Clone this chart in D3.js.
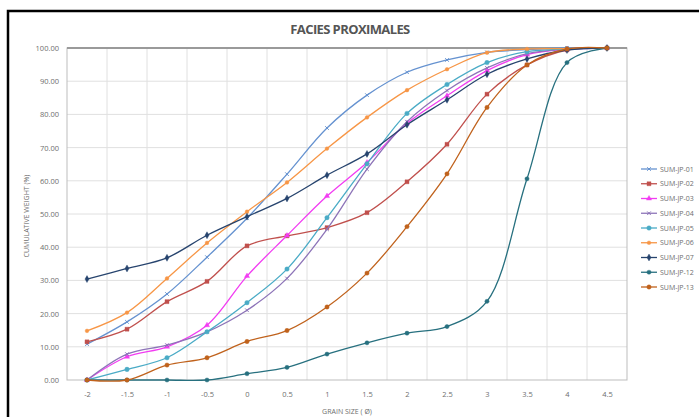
<!DOCTYPE html>
<html>
<head>
<meta charset="utf-8">
<script src="https://cdn.jsdelivr.net/npm/d3@7"></script>
<style>
  body { margin: 0; background: #fff; }
  text { font-family: "Open Sans", "DejaVu Sans", sans-serif; }
</style>
</head>
<body>
<script>
//Variables
    const width = 699;
    const height = 417;

//Data
    const grainSize = ["-2", "-1.5", "-1", "-0.5", "0", "0.5", "1", "1.5", "2", "2.5", "3", "3.5", "4", "4.5"];
    const jp01 = [10.8, 17.5, 25.9, 37.0, 48.7, 62.0, 75.9, 85.8, 92.7, 96.4, 98.7, 99.5, 100, 100];
    const jp02 = [11.5, 15.3, 23.6, 29.7, 40.4, 43.4, 45.9, 50.4, 59.7, 71.0, 86.1, 94.9, 99.4, 100];
    const jp03 = [0, 7.0, 10.0, 16.5, 31.3, 43.5, 55.4, 65.5, 77.3, 85.6, 93.2, 98.0, 99.6, 100];
    const jp04 = [0, 7.8, 10.5, 14.5, 21.0, 30.6, 45.4, 63.5, 77.8, 87.2, 94.0, 98.3, 99.7, 100];
    const jp05 = [0, 3.2, 6.7, 14.5, 23.3, 33.4, 48.9, 65.1, 80.3, 89.0, 95.6, 98.9, 99.7, 100];
    const jp06 = [14.8, 20.3, 30.6, 41.3, 50.7, 59.5, 69.7, 79.1, 87.3, 93.6, 98.6, 99.7, 99.8, 100];
    const jp07 = [30.4, 33.6, 36.8, 43.6, 49.2, 54.7, 61.7, 68.1, 76.9, 84.4, 92.1, 96.7, 99.4, 100];
    const jp12 = [0, 0, 0, 0, 1.9, 3.8, 7.8, 11.2, 14.1, 16.1, 23.7, 60.6, 95.6, 100];
    const jp13 = [0, 0, 4.5, 6.7, 11.6, 14.9, 22.0, 32.2, 46.2, 62.1, 82.1, 94.9, 99.7, 100];
    const yTicks = [0, 10, 20, 30, 40, 50, 60, 70, 80, 90, 100];

    const series = [
        {name: "SUM-JP-01", values: jp01, color: "#6592d0", symbol: d3.symbolTimes, size: 10},
        {name: "SUM-JP-02", values: jp02, color: "#c0504d", symbol: d3.symbolSquare, size: 16},
        {name: "SUM-JP-03", values: jp03, color: "#f23cf2", symbol: d3.symbolTriangle, size: 12},
        {name: "SUM-JP-04", values: jp04, color: "#8d74b8", symbol: d3.symbolTimes, size: 10},
        {name: "SUM-JP-05", values: jp05, color: "#4aabc6", symbol: d3.symbolCircle, size: 16},
        {name: "SUM-JP-06", values: jp06, color: "#f79646", symbol: d3.symbolCircle, size: 11},
        {name: "SUM-JP-07", values: jp07, color: "#27446e", symbol: d3.symbolDiamond, size: 14},
        {name: "SUM-JP-12", values: jp12, color: "#27707f", symbol: d3.symbolCircle, size: 14},
        {name: "SUM-JP-13", values: jp13, color: "#c0621c", symbol: d3.symbolCircle, size: 15}
    ];

//Svg created
    const svg = d3.select("body")
                    .append("svg")
                    .attr("width", width)
                    .attr("height", height);

    const plot = {left: 67, right: 627, top: 48, bottom: 380};

//Chart frame
    svg.append("rect")
        .attr("x", 8).attr("y", 11)
        .attr("width", 720).attr("height", 440)
        .attr("fill", "#fff")
        .attr("stroke", "#000")
        .attr("stroke-width", 2.5);

//Scales
    const x = d3.scalePoint()
                .domain(grainSize)
                .range([plot.left, plot.right])
                .padding(0.5);
    const band = d3.scaleBand()
                .domain(grainSize)
                .range([plot.left, plot.right]);
    const y = d3.scaleLinear()
                .domain([0, 100])
                .range([plot.bottom, plot.top]);

//Gridlines
    svg.append("g")
        .selectAll("line")
        .data(grainSize.slice(1))
        .enter()
        .append("line")
        .attr("x1", d => band(d)).attr("x2", d => band(d))
        .attr("y1", plot.top).attr("y2", plot.bottom)
        .attr("stroke", "#e0e0e0")
        .attr("stroke-width", 1);

    svg.append("g")
        .selectAll("line")
        .data(yTicks.slice(1, -1))
        .enter()
        .append("line")
        .attr("x1", plot.left).attr("x2", plot.right)
        .attr("y1", d => y(d)).attr("y2", d => y(d))
        .attr("stroke", "#e0e0e0")
        .attr("stroke-width", 1);

//Plot border
    svg.append("rect")
        .attr("x", plot.left).attr("y", plot.top)
        .attr("width", plot.right - plot.left)
        .attr("height", plot.bottom - plot.top)
        .attr("fill", "none")
        .attr("stroke", "#bdbdbd")
        .attr("stroke-width", 1);
    svg.append("line")
        .attr("x1", plot.left).attr("x2", plot.right)
        .attr("y1", plot.top).attr("y2", plot.top)
        .attr("stroke", "#9a9a9a")
        .attr("stroke-width", 2);

//Axes
    const yAxis = svg.append("g")
        .attr("transform", `translate(${plot.left},0)`)
        .call(d3.axisLeft(y).tickValues(yTicks).tickFormat(d3.format(".2f")).tickSize(0).tickPadding(8));
    const xAxis = svg.append("g")
        .attr("transform", `translate(0,${plot.bottom})`)
        .call(d3.axisBottom(x).tickSize(0).tickPadding(12));
    [yAxis, xAxis].forEach(a => {
        a.select(".domain").remove();
        a.selectAll("text")
            .attr("fill", "#6e6e6e")
            .style("font-size", "7.5px");
    });

//Titles
    svg.append("text")
        .attr("x", 350).attr("y", 34)
        .attr("text-anchor", "middle")
        .attr("fill", "#555")
        .style("font-size", "13px")
        .style("font-weight", "bold")
        .style("letter-spacing", "-0.6px")
        .text("FACIES PROXIMALES");

    svg.append("text")
        .attr("x", 347).attr("y", 414)
        .attr("text-anchor", "middle")
        .attr("fill", "#6e6e6e")
        .style("font-size", "7px")
        .text("GRAIN SIZE ( Ø)");

    svg.append("text")
        .attr("transform", "translate(29,216) rotate(-90)")
        .attr("text-anchor", "middle")
        .attr("fill", "#6e6e6e")
        .style("font-size", "7px")
        .text("CUMULATIVE WEIGHT (%)");

//Lines
    const line = d3.line()
        .x((d, i) => x(grainSize[i]))
        .y(d => y(d))
        .curve(d3.curveCatmullRom.alpha(0.5));

    const groups = svg.append("g")
        .selectAll("g")
        .data(series)
        .enter()
        .append("g");

    groups.append("path")
        .attr("d", d => line(d.values))
        .attr("fill", "none")
        .attr("stroke", d => d.color)
        .attr("stroke-width", 1.3);

    groups.each(function(s) {
        d3.select(this).selectAll("path.pt")
            .data(s.values)
            .enter()
            .append("path")
            .attr("class", "pt")
            .attr("transform", (d, i) => `translate(${x(grainSize[i])},${y(d)})`)
            .attr("d", d3.symbol().type(s.symbol).size(s.size))
            .attr("fill", s.color)
            .attr("stroke", s.color)
            .attr("stroke-width", s.symbol === d3.symbolTimes ? 1 : 0.4);
    });

//Legend
    const legend = svg.append("g")
        .selectAll("g")
        .data(series)
        .enter()
        .append("g")
        .attr("transform", (d, i) => `translate(641,${169 + i * 14.75})`);

    legend.append("line")
        .attr("x1", 0).attr("x2", 16)
        .attr("stroke", d => d.color)
        .attr("stroke-width", 1.3);
    legend.append("path")
        .attr("transform", "translate(8,0)")
        .attr("d", d => d3.symbol().type(d.symbol).size(d.size)())
        .attr("fill", d => d.color)
        .attr("stroke", d => d.color)
        .attr("stroke-width", d => d.symbol === d3.symbolTimes ? 1 : 0.4);
    legend.append("text")
        .attr("x", 19).attr("y", 2.5)
        .attr("fill", "#6e6e6e")
        .style("font-size", "7px")
        .text(d => d.name);
</script>
</body>
</html>
